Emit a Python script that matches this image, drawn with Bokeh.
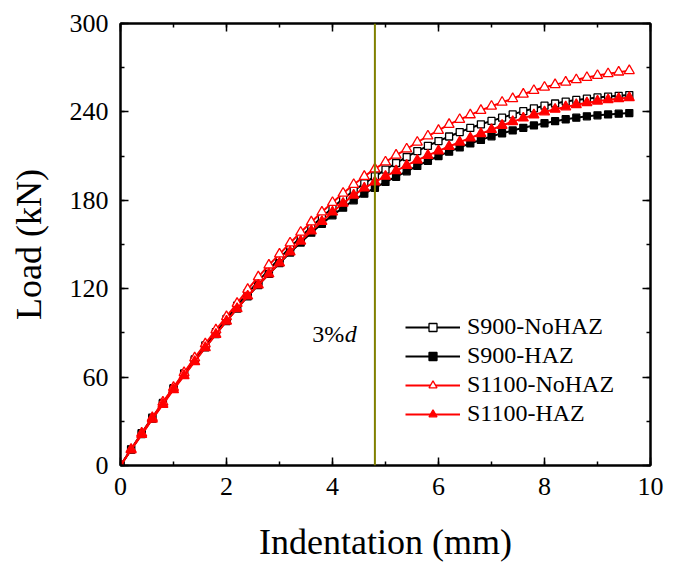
from bokeh.plotting import figure
from bokeh.models import (Range1d, SingleIntervalTicker, LinearAxis, Span,
                          Legend, LegendItem, ColumnDataSource)
from bokeh.core.properties import value
from bokeh.embed import file_html
from bokeh.resources import INLINE

# ---------------- data ----------------
indentation = [0.0, 0.2, 0.4, 0.6, 0.8, 1.0, 1.2, 1.4, 1.6, 1.8,
               2.0, 2.2, 2.4, 2.6, 2.8, 3.0, 3.2, 3.4, 3.6, 3.8,
               4.0, 4.2, 4.4, 4.6, 4.8, 5.0, 5.2, 5.4, 5.6, 5.8,
               6.0, 6.2, 6.4, 6.6, 6.8, 7.0, 7.2, 7.4, 7.6, 7.8,
               8.0, 8.2, 8.4, 8.6, 8.8, 9.0, 9.2, 9.4, 9.6]

s900_nohaz = [0, 11, 22, 32.5, 42.5, 52.5, 62.5, 72, 81.5, 90.5,
              99.5, 108.5, 117, 125, 133, 140.5, 148, 155, 162, 168.5,
              175, 181, 186.5, 191.5, 196.3, 200.8, 205.3, 209.4, 213.4, 217,
              220.2, 223.3, 226.3, 229.1, 231.6, 233.9, 236.1, 238.3, 240.5, 242.4,
              244.2, 245.7, 247, 248.1, 249, 249.8, 250.4, 250.9, 251.4]

s900_haz = [0, 10.8, 21.3, 31.8, 42, 52, 61.5, 71, 80.2, 89.2,
            98, 106.5, 114.8, 122.5, 130, 137.3, 144.5, 151.3, 158, 164.1,
            169.8, 175, 180, 184.5, 188.5, 192.5, 196, 199.7, 203.3, 206.8,
            210, 213, 215.9, 218.6, 221, 223.4, 225.5, 227.4, 229.2, 230.8,
            232.3, 233.7, 235, 236.1, 237, 237.7, 238.3, 238.8, 239.2]

s1100_nohaz = [0, 11, 22, 32.5, 43, 53, 63, 73, 82.5, 92,
               101, 110, 119.5, 128, 136, 143.5, 151, 158.3, 165.3, 172,
               178.5, 184.8, 190.7, 196.2, 201.3, 206, 210.6, 214.8, 219.4, 223.6,
               227.4, 231.5, 234.8, 238, 241, 243.8, 246.5, 249, 252, 254.5,
               256.7, 258.5, 260.2, 261.8, 263.3, 264.7, 265.9, 267, 268]

s1100_haz = [0, 10.5, 21, 31.5, 41.5, 51.5, 61, 70.5, 80, 89,
             98, 106.5, 115, 122.5, 130, 137.5, 145, 152.3, 159.2, 165.6,
             172, 178, 183.5, 188.3, 192.5, 196.3, 200, 203.7, 207.2, 210.5,
             213.5, 216.5, 219.5, 222.3, 225.2, 228, 230.8, 233.4, 235.8, 238,
             240, 241.8, 243.4, 244.9, 246.2, 247.3, 248.2, 249, 249.7]

series_names = ["S900-NoHAZ", "S900-HAZ", "S1100-NoHAZ", "S1100-HAZ"]
marker_line = 4.8          # 3%d indentation
annot_x = [3.62]
annot_y = [89.5]
annot_d_x = [4.23]

FONT = "Liberation Serif"

# ---------------- figure ----------------
p = figure(frame_width=530, frame_height=442,
           min_border_left=120, min_border_right=33,
           min_border_top=23, min_border_bottom=97,
           x_range=Range1d(0, 10), y_range=Range1d(0, 300),
           output_backend="svg", toolbar_location=None,
           background_fill_color="white", border_fill_color="white")
p.xgrid.visible = False
p.ygrid.visible = False
p.outline_line_color = "black"
p.outline_line_width = 2


def style_axis(ax, show_labels=True):
    ax.axis_line_color = "black"
    ax.axis_line_width = 2
    ax.major_tick_in = 8
    ax.major_tick_out = 0
    ax.minor_tick_in = 4
    ax.minor_tick_out = 0
    ax.major_tick_line_width = 1.5
    ax.minor_tick_line_width = 1.5
    ax.major_label_text_font = FONT
    ax.major_label_text_font_size = "26px"
    ax.major_label_text_color = "black" if show_labels else None
    ax.axis_label_text_font = FONT
    ax.axis_label_text_font_size = "36px"
    ax.axis_label_text_font_style = "normal"
    ax.axis_label_text_color = "black"


p.xaxis.ticker = SingleIntervalTicker(interval=2, num_minor_ticks=2)
p.yaxis.ticker = SingleIntervalTicker(interval=60, num_minor_ticks=2)
style_axis(p.xaxis[0])
style_axis(p.yaxis[0])
p.xaxis.axis_label = "Indentation (mm)"
p.yaxis.axis_label = "Load (kN)"
p.xaxis.major_label_standoff = 12
p.yaxis.major_label_standoff = 12
p.xaxis.axis_label_standoff = 24
p.yaxis.axis_label_standoff = 18

top = LinearAxis(ticker=SingleIntervalTicker(interval=2, num_minor_ticks=2))
right = LinearAxis(ticker=SingleIntervalTicker(interval=60, num_minor_ticks=2))
style_axis(top, False)
style_axis(right, False)
top.major_label_standoff = 0
right.major_label_standoff = 0
p.add_layout(top, "above")
p.add_layout(right, "right")

# vertical 3%d line
p.add_layout(Span(location=marker_line, dimension="height",
                  line_color="#808000", line_width=2))

# annotation text
p.text(x=annot_x, y=annot_y, text=["3%"], text_font=value(FONT),
       text_font_size="24px", text_color="black", text_baseline="alphabetic",
       text_align="left")
p.text(x=annot_d_x, y=annot_y, text=["d"], text_font=value(FONT),
       text_font_size="24px", text_font_style="italic", text_color="black",
       text_baseline="alphabetic", text_align="left")

src = ColumnDataSource(dict(x=indentation, a=s900_nohaz, b=s900_haz,
                            c=s1100_nohaz, d=s1100_haz))

styles = [
    ("a", "black", "square", "white", 7),
    ("b", "black", "square", "black", 7),
    ("c", "red", "triangle", "white", 10),
    ("d", "red", "triangle", "red", 10),
]
items = []
for name, (col, color, marker, fill, size) in zip(series_names, styles):
    ln = p.line("x", col, source=src, line_color=color, line_width=2)
    sc = p.scatter("x", col, source=src, marker=marker, size=size,
                   line_color=color, fill_color=fill, line_width=1.3)
    items.append(LegendItem(label=name, renderers=[ln, sc]))

legend = Legend(items=items, location=(285, 38), orientation="vertical",
                glyph_width=55, glyph_height=20, label_standoff=7,
                spacing=2, padding=0, margin=0,
                border_line_alpha=0, background_fill_alpha=0,
                label_text_font=FONT, label_text_font_size="24px",
                label_text_color="black")
p.add_layout(legend, "center")

open("out.html", "w").write(file_html(p, INLINE))
